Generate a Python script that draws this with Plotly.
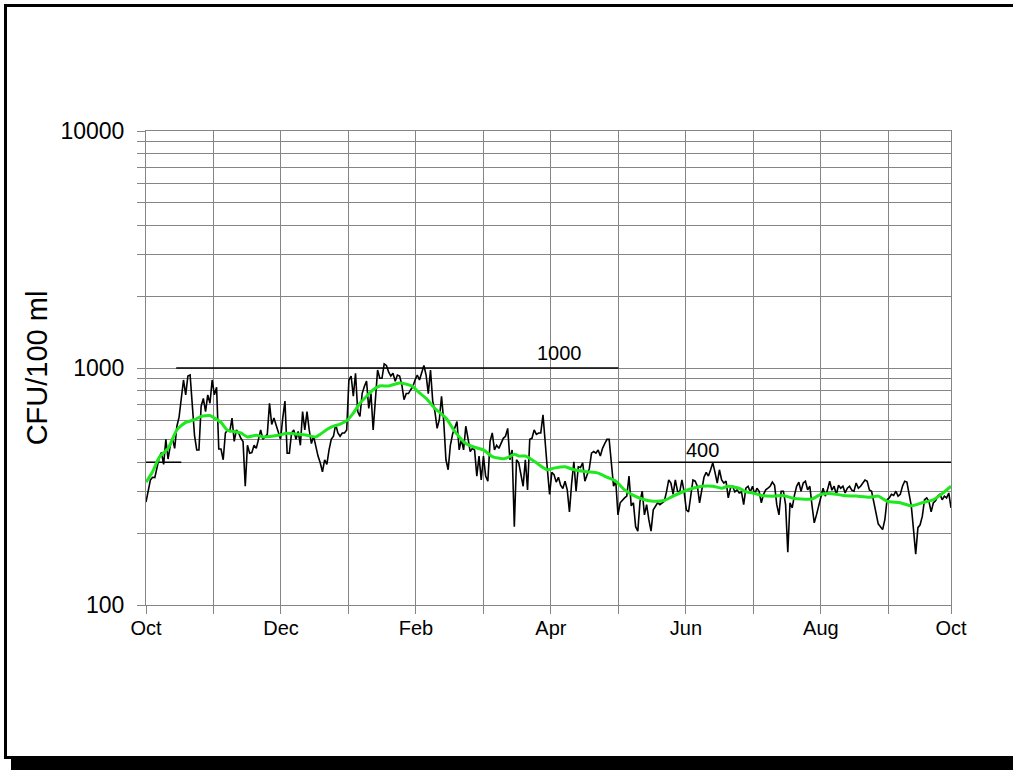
import plotly.graph_objects as go

# ---------------- data ----------------
# daily counts (CFU/100 ml), day 0 = 1 Oct ... day 365 = 1 Oct next year
cfu_daily = [
    272, 300, 337, 346, 345, 380, 420, 440, 392, 500,
    413, 470, 505, 458, 568, 620, 750, 890, 770, 925,
    934, 713, 520, 451, 451, 690, 744, 655, 770, 710,
    890, 770, 830, 455, 455, 410, 532, 548, 540, 615,
    490, 548, 532, 505, 490, 317, 472, 437, 440, 472,
    458, 500, 548, 500, 515, 525, 710, 578, 615, 570,
    540, 500, 615, 725, 437, 437, 532, 548, 500, 540,
    472, 655, 548, 655, 548, 480, 515, 465, 425, 398,
    365, 410, 392, 451, 500, 515, 578, 532, 515, 532,
    532, 548, 890, 925, 760, 950, 655, 625, 780, 835,
    880, 675, 780, 548, 725, 980, 905, 905, 1040, 1025,
    963, 925, 950, 880, 934, 925, 848, 735, 780, 780,
    810, 835, 890, 934, 890, 950, 1025, 934, 780, 980,
    725, 655, 556, 605, 760, 595, 410, 372, 472, 525,
    556, 595, 451, 500, 451, 568, 505, 444, 458, 450,
    350, 425, 337, 425, 350, 333, 490, 532, 451, 472,
    458, 480, 505, 515, 556, 410, 451, 214, 410, 398,
    350, 317, 410, 306, 500, 505, 548, 525, 532, 532,
    635, 465, 372, 293, 363, 355, 330, 346, 320, 310,
    333, 306, 247, 327, 402, 302, 383, 380, 398, 333,
    355, 376, 437, 444, 437, 451, 425, 458, 480, 500,
    500, 398, 317, 333, 240, 270, 278, 283, 288, 350,
    262, 270, 214, 205, 274, 302, 240, 265, 229, 205,
    252, 262, 270, 265, 270, 274, 300, 337, 327, 293,
    337, 302, 300, 337, 300, 252, 247, 288, 337, 333,
    317, 270, 306, 346, 363, 350, 372, 398, 363, 327,
    372, 337, 327, 333, 283, 311, 317, 300, 306, 297,
    300, 265, 311, 317, 300, 317, 293, 311, 302, 270,
    293, 306, 311, 317, 330, 320, 265, 240, 302, 302,
    265, 167, 270, 257, 290, 317, 330, 302, 327, 333,
    306, 317, 262, 222, 240, 262, 293, 311, 288, 306,
    333, 305, 317, 293, 320, 311, 317, 297, 311, 317,
    305, 302, 327, 311, 317, 325, 337, 333, 306, 302,
    270, 237, 220, 214, 208, 229, 278, 283, 293, 290,
    302, 288, 293, 317, 333, 330, 293, 262, 208, 164,
    212, 218, 237, 278, 283, 274, 247, 270, 275, 288,
    293, 278, 288, 283, 297, 257,
]

# moving-average curve (green)
ma_days = [0, 3, 6, 10, 14, 18, 22, 25, 29, 31, 34, 37, 40, 43, 46, 50, 53, 57,
           60, 64, 69, 73, 77, 79, 82, 85, 88, 91, 94, 97, 100, 103, 106, 110,
           113, 115, 118, 121, 123, 127, 131, 136, 140, 145, 149, 153, 157, 162,
           165, 167, 169, 172, 175, 178, 182, 185, 190, 194, 200, 205, 209, 213,
           217, 221, 226, 230, 235, 239, 244, 248, 252, 257, 261, 264, 269, 272,
           275, 279, 285, 289, 293, 297, 302, 306, 311, 316, 322, 328, 332, 336,
           342, 347, 352, 357, 361, 365]
ma_values = [330, 365, 420, 458, 548, 590, 605, 625, 630, 615, 590, 545, 540, 532,
             512, 520, 512, 515, 520, 530, 525, 520, 512, 525, 550, 568, 580, 600,
             645, 710, 760, 810, 840, 840, 855, 865, 855, 835, 800, 745, 675, 615,
             540, 480, 463, 451, 423, 414, 423, 433, 425, 425, 410, 392, 372, 378,
             383, 372, 365, 360, 346, 333, 306, 290, 278, 274, 276, 288, 302, 311,
             317, 317, 311, 317, 311, 300, 297, 290, 288, 290, 283, 280, 280, 293,
             295, 290, 288, 285, 288, 274, 270, 262, 270, 278, 295, 317]

# guideline limits
limit_values = [400, 1000, 400]
limit_start_day = [0, 13.7, 214.2]
limit_end_day = [16, 214.2, 365]
limit_text = ["1000", "400"]

# axis ticks
month_tick_days = [0, 30.6, 61.2, 91.8, 122.4, 153, 183.6, 214.2, 244.8, 275.4, 306, 336.6, 365]
month_tick_labels = ["Oct", "", "Dec", "", "Feb", "", "Apr", "", "Jun", "", "Aug", "", "Oct"]
y_tick_values = [100, 200, 300, 400, 500, 600, 700, 800, 900,
                 1000, 2000, 3000, 4000, 5000, 6000, 7000, 8000, 9000, 10000]
y_tick_labels = ["100"] + [""] * 8 + ["1000"] + [""] * 8 + ["10000"]

# ---------------- figure ----------------
W, H = 1013, 770
ML, MR, MT, MB = 146, 62, 131, 165
PW, PH = W - ML - MR, H - MT - MB


def px_x(px):
    return (px - ML) / PW


def px_y(py):
    return (H - MB - py) / PH


def black_box(x0, y0, x1, y1):
    """Filled black rectangle given in page pixels (no outline)."""
    return dict(type="rect", xref="paper", yref="paper", layer="above",
                x0=px_x(x0), x1=px_x(x1), y0=px_y(y1), y1=px_y(y0),
                line=dict(width=0), fillcolor="black")


days = list(range(len(cfu_daily)))
FONT = "Liberation Sans, Arial, sans-serif"
GRID = "#858585"

fig = go.Figure()

for v, x0, x1 in zip(limit_values, limit_start_day, limit_end_day):
    fig.add_trace(go.Scatter(x=[x0, x1], y=[v, v], mode="lines",
                             line=dict(color="black", width=1.6),
                             hoverinfo="skip", showlegend=False))

fig.add_trace(go.Scatter(x=days, y=cfu_daily, mode="lines",
                         line=dict(color="black", width=1.6),
                         showlegend=False, name="daily"))
fig.add_trace(go.Scatter(x=ma_days, y=ma_values, mode="lines",
                         line=dict(color="#1ee81e", width=3, shape="spline", smoothing=0.6),
                         showlegend=False, name="moving average"))

fig.add_annotation(x=187.7, y=3, xref="x", yref="y", text=limit_text[0],
                   showarrow=False, yanchor="middle", yshift=15,
                   font=dict(size=20, color="black", family=FONT))
fig.add_annotation(x=252.4, y=2.60206, xref="x", yref="y", text=limit_text[1],
                   showarrow=False, yanchor="middle", yshift=12.5,
                   font=dict(size=20, color="black", family=FONT))

# outer frame (top, left, bottom edges) with drop shadow, as filled bars
fig.add_shape(**black_box(4, 4, 1013, 7))       # top edge
fig.add_shape(**black_box(4, 4, 7, 759))        # left edge
fig.add_shape(**black_box(4, 756, 1013, 759))   # bottom edge
fig.add_shape(**black_box(11, 759, 1013, 770))  # shadow

fig.update_layout(
    width=W, height=H,
    margin=dict(l=ML, r=MR, t=MT, b=MB, pad=0),
    paper_bgcolor="white", plot_bgcolor="white",
    font=dict(family=FONT, color="black"),
    showlegend=False,
    xaxis=dict(range=[0, 365], tickvals=month_tick_days, ticktext=month_tick_labels,
               showgrid=True, gridcolor=GRID, gridwidth=1,
               ticks="outside", ticklen=8, tickcolor=GRID, tickwidth=1,
               showline=True, linecolor=GRID, linewidth=1, mirror=True,
               zeroline=False, ticklabelstandoff=-3,
               tickfont=dict(size=20, family=FONT, color="black")),
    yaxis=dict(type="log", range=[2, 4], tickvals=y_tick_values, ticktext=y_tick_labels,
               showgrid=True, gridcolor=GRID, gridwidth=1,
               ticks="outside", ticklen=8, tickcolor=GRID, tickwidth=1,
               showline=True, linecolor=GRID, linewidth=1, mirror=True,
               zeroline=False, ticklabelstandoff=8,
               tickfont=dict(size=23, family=FONT, color="black"),
               title=dict(text="CFU/100 ml", standoff=4,
                          font=dict(size=29, family=FONT, color="black"))),
)

fig.write_html("out.html", config={"displayModeBar": False})
